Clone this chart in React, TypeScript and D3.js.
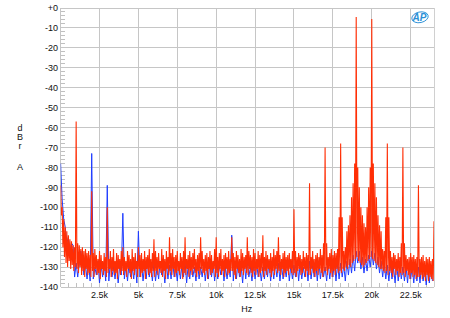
import React from "react";
import * as d3 from "d3";

const W = 450;
const H = 318;
const PLOT = { left: 60.6, right: 434, top: 8, bottom: 287 };

const yTickValues = [0, -10, -20, -30, -40, -50, -60, -70, -80, -90, -100, -110, -120, -130, -140];
const yTickLabels = ["+0", "-10", "-20", "-30", "-40", "-50", "-60", "-70", "-80", "-90", "-100", "-110", "-120", "-130", "-140"];
const xTickValues = [2500, 5000, 7500, 10000, 12500, 15000, 17500, 20000, 22500];
const xTickLabels = ["2.5k", "5k", "7.5k", "10k", "12.5k", "15k", "17.5k", "20k", "22.5k"];

// Red trace noise floor, 50 Hz steps from 0 Hz (one row per kHz)
const RED_STEP = 50;
const redFloor: number[] = [
  -89, -104, -100, -120, -106, -125, -110, -128, -112, -130, -114, -127, -116, -131, -117, -129, -119, -132, -120, -130,
  -121, -131, -118, -133, -119, -130, -121, -134, -120, -132, -122, -135, -121, -131, -123, -134, -122, -133, -124, -135,
  -125, -132, -123, -135, -121, -131, -124, -134, -126, -133, -122, -136, -124, -131, -127, -134, -123, -132, -125, -135,
  -124, -133, -126, -131, -122, -135, -125, -132, -121, -134, -127, -133, -123, -136, -124, -131, -126, -134, -122, -132,
  -123, -134, -125, -132, -127, -135, -122, -131, -124, -133, -126, -136, -121, -132, -125, -134, -123, -131, -127, -135,
  -122, -131, -124, -135, -123, -133, -126, -132, -122, -136, -125, -131, -124, -134, -121, -133, -126, -135, -123, -132,
  -124, -135, -122, -132, -125, -134, -123, -131, -127, -133, -121, -135, -124, -132, -126, -136, -122, -131, -125, -134,
  -126, -132, -123, -134, -121, -131, -125, -135, -124, -133, -122, -132, -127, -134, -123, -131, -125, -136, -122, -133,
  -123, -134, -126, -131, -124, -135, -122, -132, -125, -134, -123, -131, -121, -133, -126, -135, -124, -132, -123, -134,
  -125, -131, -122, -133, -126, -134, -124, -132, -123, -136, -125, -131, -122, -134, -124, -133, -127, -131, -121, -135,
  -122, -133, -125, -135, -123, -131, -121, -134, -126, -132, -124, -135, -123, -131, -125, -134, -122, -133, -126, -132,
  -124, -132, -123, -134, -125, -136, -122, -131, -124, -133, -126, -135, -121, -132, -123, -134, -125, -131, -124, -133,
  -126, -134, -122, -131, -124, -133, -125, -135, -121, -132, -123, -134, -126, -131, -122, -135, -124, -133, -123, -132,
  -123, -135, -125, -132, -122, -134, -124, -131, -126, -133, -123, -135, -125, -132, -121, -134, -124, -131, -122, -133,
  -125, -132, -124, -134, -126, -131, -123, -135, -122, -133, -125, -132, -124, -134, -123, -131, -126, -133, -122, -134,
  -124, -133, -122, -135, -125, -132, -123, -131, -124, -134, -126, -133, -122, -131, -125, -135, -123, -132, -124, -134,
  -123, -134, -125, -131, -122, -133, -126, -135, -124, -132, -123, -134, -125, -131, -121, -133, -124, -135, -122, -132,
  -124, -132, -122, -134, -125, -131, -123, -133, -121, -135, -124, -132, -122, -134, -123, -131, -121, -133, -122, -132,
  -122, -133, -121, -131, -122, -132, -120, -130, -121, -131, -119, -129, -120, -130, -118, -128, -117, -127, -116, -126,
  -116, -125, -117, -127, -119, -128, -120, -129, -121, -130, -121, -129, -120, -128, -119, -127, -118, -126, -117, -125,
  -116, -126, -117, -127, -118, -128, -119, -129, -120, -130, -121, -131, -122, -131, -121, -132, -122, -133, -123, -132,
  -123, -134, -124, -132, -122, -133, -125, -135, -123, -131, -124, -134, -126, -132, -123, -135, -125, -133, -124, -134,
  -125, -133, -123, -135, -124, -132, -126, -134, -125, -136, -123, -133, -125, -135, -124, -134, -126, -136, -125, -135,
  -124, -135, -126, -134, -125, -136, -124, -135, -127, -137, -125, -134, -126, -137, -125, -135, -127, -136, -126, -137,
];

const redSpikeHz = [
  0, 1000, 2000, 3000, 4000, 5000, 6000, 7000, 8000, 9000, 10000, 11000, 12000, 13000, 14000, 15000, 16000,
  16900, 17000, 17100, 17900, 18000, 18100,
  18400, 18500, 18600, 18700, 18800, 18900, 19000, 19100, 19200, 19300, 19400, 19500,
  19600, 19700, 19800, 19900, 20000, 20100, 20200, 20300, 20400, 20500, 20600,
  20900, 21000, 21100, 21900, 22000, 22100, 23000, 24000,
];
const redSpikeDb = [
  -89, -57, -92, -100, -120, -120, -116, -115, -115, -115, -115, -115, -115, -114, -115, -101, -88,
  -118, -70, -118, -105, -68, -105,
  -112, -109, -104, -95, -88, -78, -4.5, -80, -90, -100, -104, -108,
  -110, -100, -90, -80, -5.5, -78, -88, -95, -104, -109, -112,
  -105, -68, -105, -118, -70, -118, -89, -107,
];

// Blue trace noise floor, 100 Hz steps from 0 Hz (one row per kHz)
const BLUE_STEP = 100;
const blueFloor: number[] = [
  -85, -120, -112, -126, -118, -130, -122, -133, -124, -135,
  -128, -135, -128, -137, -127, -134, -129, -136, -128, -137,
  -128, -136, -130, -134, -127, -138, -129, -135, -128, -137,
  -129, -137, -127, -135, -130, -136, -128, -138, -129, -134,
  -127, -136, -129, -137, -128, -135, -130, -136, -127, -138,
  -130, -135, -128, -137, -129, -136, -127, -135, -129, -137,
  -128, -137, -130, -136, -127, -134, -129, -138, -128, -136,
  -129, -136, -127, -135, -130, -137, -128, -136, -129, -135,
  -127, -138, -129, -136, -128, -135, -130, -137, -127, -136,
  -130, -135, -128, -137, -129, -136, -127, -135, -128, -137,
  -128, -136, -129, -134, -127, -137, -130, -136, -129, -135,
  -129, -137, -127, -136, -128, -135, -129, -138, -127, -136,
  -127, -135, -130, -137, -129, -136, -128, -135, -130, -137,
  -130, -136, -128, -135, -127, -137, -129, -136, -128, -135,
  -128, -137, -129, -136, -130, -135, -127, -137, -129, -136,
  -129, -135, -127, -137, -128, -136, -130, -135, -127, -137,
  -127, -136, -129, -135, -128, -137, -127, -136, -129, -135,
  -130, -137, -128, -136, -129, -135, -127, -137, -128, -136,
  -128, -135, -129, -137, -127, -134, -126, -133, -124, -132,
  -122, -128, -122, -131, -125, -133, -126, -132, -124, -130,
  -122, -129, -123, -131, -125, -133, -127, -135, -128, -136,
  -129, -137, -128, -136, -130, -138, -128, -137, -129, -136,
  -130, -137, -129, -138, -128, -136, -130, -138, -129, -137,
  -130, -138, -129, -137, -131, -139, -130, -138, -129, -137,
];

// Blue components that show above the red trace
const blueSpikeHz = [0, 100, 200, 300, 500, 700, 800, 1300, 2000, 3000, 4000, 5000, 11000];
const blueSpikeDb = [-78, -96, -106, -110, -115, -118, -119, -122, -73, -89, -103, -112, -114];

function buildPoints(floor: number[], step: number, spikeHz: number[], spikeDb: number[]): [number, number][] {
  const m = new Map<number, number>();
  floor.forEach((v, i) => m.set(i * step, v));
  spikeHz.forEach((f, i) => m.set(f, spikeDb[i]));
  return Array.from(m.entries()).sort((a, b) => a[0] - b[0]);
}

const FONT = "'Liberation Sans', Arial, Helvetica, sans-serif";

export default function App() {
  const x = d3.scaleLinear().domain([0, 24000]).range([PLOT.left, PLOT.right]);
  const y = d3.scaleLinear().domain([0, -140]).range([PLOT.top, PLOT.bottom]);
  const line = d3
    .line<[number, number]>()
    .x((d) => x(d[0]))
    .y((d) => y(d[1]));

  const redPts = buildPoints(redFloor, RED_STEP, redSpikeHz, redSpikeDb);
  const bluePts = buildPoints(blueFloor, BLUE_STEP, blueSpikeHz, blueSpikeDb);

  const minorY = d3.range(0, -141, -2).filter((v) => v % 10 !== 0);
  const minorX = d3.range(500, 24000, 500).filter((v) => v % 2500 !== 0);

  return (
    <svg
      width={W}
      height={H}
      style={{ position: "absolute", left: 0, top: 0, background: "#fff" }}
      fontFamily={FONT}
    >
      <defs>
        <clipPath id="plotclip">
          <rect x={PLOT.left} y={PLOT.top - 1} width={PLOT.right - PLOT.left} height={PLOT.bottom - PLOT.top + 2} />
        </clipPath>
      </defs>
      <rect width={W} height={H} fill="#fff" />
      {/* grid */}
      <g shapeRendering="crispEdges">
        {yTickValues.map((v) => (
          <line key={"gy" + v} x1={PLOT.left} x2={PLOT.right} y1={y(v)} y2={y(v)} stroke="#c6c6c6" strokeWidth={1} />
        ))}
        {xTickValues.map((v) => (
          <line key={"gx" + v} x1={x(v)} x2={x(v)} y1={PLOT.top} y2={PLOT.bottom} stroke="#c6c6c6" strokeWidth={1} />
        ))}
        <line x1={PLOT.left} x2={PLOT.left} y1={PLOT.top} y2={PLOT.bottom} stroke="#c6c6c6" />
        <line x1={PLOT.right} x2={PLOT.right} y1={PLOT.top} y2={PLOT.bottom} stroke="#d0d0d0" />
        {minorY.map((v) => (
          <line key={"my" + v} x1={PLOT.left} x2={PLOT.left + 4} y1={y(v)} y2={y(v)} stroke="#c0c0c0" />
        ))}
        {minorX.map((v) => (
          <line key={"mx" + v} x1={x(v)} x2={x(v)} y1={PLOT.bottom - 4} y2={PLOT.bottom} stroke="#c0c0c0" />
        ))}
      </g>
      {/* traces */}
      <g clipPath="url(#plotclip)">
        <path d={line(bluePts) || ""} fill="none" stroke="#1f3cff" strokeWidth={1} />
        <path d={line(redPts) || ""} fill="none" stroke="#ff2e05" strokeWidth={1.1} />
      </g>
      {/* y tick labels */}
      {yTickValues.map((v, i) => (
        <text key={"yl" + v} x={58} y={y(v) + 3.2} fontSize={9} textAnchor="end" fill="#111">
          {yTickLabels[i]}
        </text>
      ))}
      {/* x tick labels */}
      {xTickValues.map((v, i) => (
        <text key={"xl" + v} x={x(v)} y={298} fontSize={9} textAnchor="middle" fill="#111">
          {xTickLabels[i]}
        </text>
      ))}
      <text x={246.7} y={311.5} fontSize={9} textAnchor="middle" fill="#111">Hz</text>
      {/* y axis title, stacked */}
      <text x={20} y={130.5} fontSize={9} textAnchor="middle" fill="#111">d</text>
      <text x={20} y={139.8} fontSize={9} textAnchor="middle" fill="#111">B</text>
      <text x={20} y={149} fontSize={9} textAnchor="middle" fill="#111">r</text>
      <text x={20} y={170.3} fontSize={9} textAnchor="middle" fill="#111">A</text>
      {/* AP logo */}
      <g>
        <ellipse cx={420} cy={17.3} rx={8.3} ry={5.3} fill="none" stroke="#2b8fd6" strokeWidth={0.9} transform="rotate(-12 420 17.3)" />
        <text x={419.5} y={21} fontSize={10} fontStyle="italic" fontWeight="bold" textAnchor="middle" fill="#2b8fd6">AP</text>
      </g>
    </svg>
  );
}
